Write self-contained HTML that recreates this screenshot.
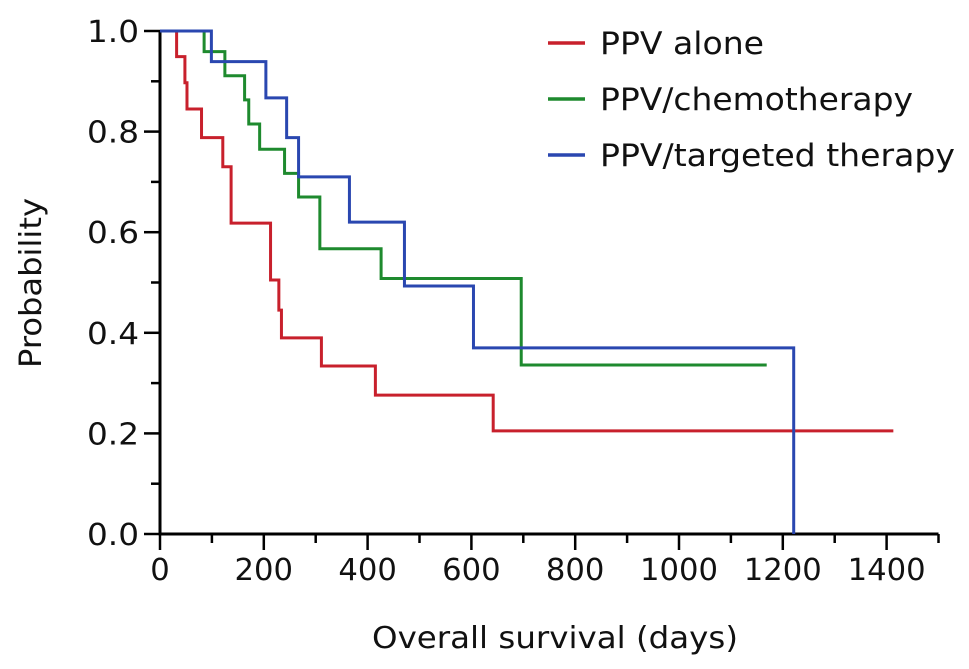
<!DOCTYPE html>
<html><head><meta charset="utf-8"><style>
html,body{margin:0;padding:0;background:#fff;}
svg{display:block;font-family:"DejaVu Sans","Liberation Sans",sans-serif;}
</style></head><body>
<svg id="chart" width="969" height="669" viewBox="0 0 969 669">
<g id="axes"></g>
<g id="series"></g>
<g id="legend"></g>
<text x="555" y="648" text-anchor="middle" font-size="30" textLength="366" lengthAdjust="spacingAndGlyphs" fill="#111">Overall survival  (days)</text>
<text transform="translate(41,283) rotate(-90)" text-anchor="middle" font-size="30" textLength="170" lengthAdjust="spacingAndGlyphs" fill="#111">Probability</text>
</svg>
<script>
const xTicks = [0,200,400,600,800,1000,1200,1400];
const yTicks = [0.0,0.2,0.4,0.6,0.8,1.0];
const yTickLabels = ["0.0","0.2","0.4","0.6","0.8","1.0"];
const redTimes = [0,32,48,52,80,121,137,213,229,234,311,415,642,1413];
const redSurv = [1,0.949,0.897,0.845,0.788,0.73,0.618,0.505,0.445,0.39,0.334,0.276,0.205,0.205];
const greenTimes = [0,85,125,163,171,192,240,267,308,426,696,1169];
const greenSurv = [1,0.959,0.911,0.863,0.815,0.765,0.717,0.67,0.567,0.508,0.336,0.336];
const blueTimes = [0,99,204,244,267,365,471,604,1221,1221];
const blueSurv = [1,0.939,0.867,0.788,0.71,0.62,0.493,0.37,0,0];
const seriesNames = ["PPV alone","PPV/chemotherapy","PPV/targeted therapy"];

const NS="http://www.w3.org/2000/svg";
const X0=160, PXD=0.519, Y0=534, PXY=503;
const xs=d=>X0+d*PXD, ys=p=>Y0-p*PXY;
function mk(tag,attrs,parent){const e=document.createElementNS(NS,tag);for(const k in attrs)e.setAttribute(k,attrs[k]);parent.appendChild(e);return e;}
const axes=document.getElementById('axes');
let a=mk('line',{x1:X0,y1:Y0,x2:xs(1500),y2:Y0,stroke:'#000','stroke-width':3},axes);


a=mk('line',{x1:X0,y1:Y0+1.5,x2:X0,y2:ys(1)-1,stroke:'#000','stroke-width':3},axes);


for(let d=0;d<=1500;d+=100){const major=d%200===0;
 const t=mk('line',{x1:xs(d),y1:Y0,x2:xs(d),y2:Y0+(major?16:9),stroke:'#000','stroke-width':2.5},axes);
 
 }
for(let i=0;i<=10;i++){const p=i/10,major=i%2===0;
 const t=mk('line',{x1:X0-(major?16:9),y1:ys(p),x2:X0,y2:ys(p),stroke:'#000','stroke-width':2.5},axes);
 
 }
xTicks.forEach(v=>{const s=String(v);const t=mk('text',{x:xs(v),y:580,'text-anchor':'middle','font-size':30,fill:'#111',textLength:s.length*19.5,lengthAdjust:'spacingAndGlyphs'},axes);t.textContent=s;
 
 });
yTicks.forEach((v,i)=>{const t=mk('text',{x:139,y:ys(v)+11,'text-anchor':'end','font-size':30,fill:'#111',textLength:52,lengthAdjust:'spacingAndGlyphs'},axes);t.textContent=yTickLabels[i];
 
 });
const ser=document.getElementById('series');
function step(times,surv,color,name){let d=`M${xs(times[0])},${ys(surv[0])}`;
 for(let i=1;i<times.length;i++){d+=` H${xs(times[i])} V${ys(surv[i])}`;}
 const p=mk('path',{d:d,fill:'none',stroke:color,'stroke-width':3},ser);
 
 }
step(redTimes,redSurv,'#c8202c','ppv-alone-curve');
step(greenTimes,greenSurv,'#1e8a2e','ppv-chemotherapy-curve');
step(blueTimes,blueSurv,'#2a47b0','ppv-targeted-therapy-curve');
const leg=document.getElementById('legend');
const cols=['#c8202c','#1e8a2e','#2a47b0'];const lw=[164,313,355];
seriesNames.forEach((n,i)=>{const y=43+i*56;
 const l=mk('line',{x1:548,y1:y,x2:585,y2:y,stroke:cols[i],'stroke-width':3.5},leg);
 
 
 const t=mk('text',{x:600,y:y+11,'font-size':31,fill:'#111',textLength:lw[i],lengthAdjust:'spacingAndGlyphs'},leg);t.textContent=n;
 
 });
</script>
</body></html>
